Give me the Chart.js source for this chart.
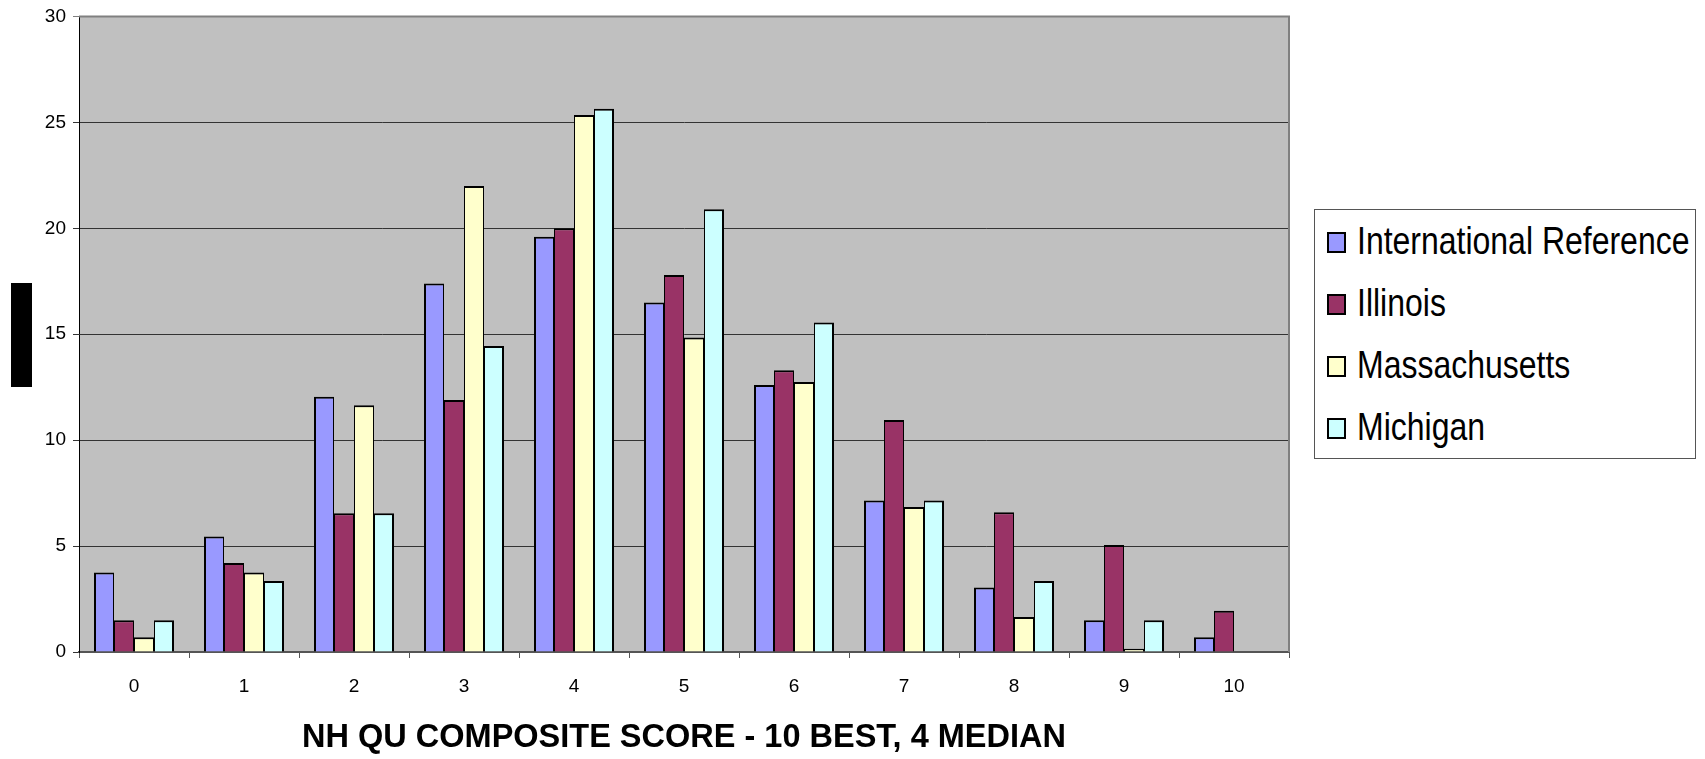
<!DOCTYPE html>
<html>
<head>
<meta charset="utf-8">
<script src="https://cdn.jsdelivr.net/npm/chart.js@4/dist/chart.umd.min.js"></script>
<style>
  html, body { margin: 0; padding: 0; background: #ffffff; }
  #wrap { position: relative; width: 1705px; height: 759px; overflow: hidden; }
  #chart { position: absolute; left: 0; top: 0; }
  .axis-tab { position: absolute; left: 11px; top: 283px; width: 21px; height: 104px; background: #000; }
  #legend {
    position: absolute; left: 1314px; top: 209px; width: 380px; height: 247px;
    border: 1px solid #555; background: #fff; box-sizing: content-box;
    padding-top: 1px;
    font-family: "Liberation Sans", Arial, sans-serif;
    font-size: 39px; color: #000;
  }
  #legend .row { height: 62px; display: flex; align-items: center; white-space: nowrap; }
  #legend .sw { width: 15px; height: 17px; border: 2px solid #000; margin-left: 12px; margin-right: 11px; flex: none; }
  /* narrow-set legend lettering */
  #legend .txt { display: inline-block; transform: scaleX(0.82); transform-origin: left center; margin-top: -3px; }
</style>
</head>
<body>
<div id="wrap">
  <canvas id="chart" width="1705" height="759"></canvas>
  <div class="axis-tab"></div>
  <div id="legend"></div>
</div>
<script>
// Score categories on the x axis
const categories = ['0', '1', '2', '3', '4', '5', '6', '7', '8', '9', '10'];

// Share of homes (%) at each composite score
const intlReference = [3.75, 5.45, 12.05, 17.4, 19.6, 16.5, 12.6, 7.15, 3.05, 1.5, 0.7];
const illinois      = [1.5, 4.2, 6.55, 11.9, 20.0, 17.8, 13.3, 10.95, 6.6, 5.05, 1.95];
const massachusetts = [0.7, 3.75, 11.65, 22.0, 25.35, 14.85, 12.75, 6.85, 1.65, 0.15, 0];
const michigan      = [1.5, 3.35, 6.55, 14.45, 25.65, 20.9, 15.55, 7.15, 3.35, 1.5, 0];

// Y axis range
const yMin = 0;
const yMax = 30;
const yStep = 5;

const seriesNames = ['International Reference', 'Illinois', 'Massachusetts', 'Michigan'];
const seriesColors = ['#9999FF', '#993366', '#FFFFCC', '#CCFFFF'];
const seriesData = [intlReference, illinois, massachusetts, michigan];

const tickFont = { family: '"Liberation Sans", Arial, sans-serif', size: 19, lineHeight: 1 };

// Outer bars get a full 2px edge, inner edges are shared between neighbours
function edgeWidths(i, n) {
  return { top: 2, bottom: 0, left: i === 0 ? 2 : 1, right: i === n - 1 ? 2 : 1 };
}

const datasets = seriesNames.map((name, i) => ({
  label: name,
  data: seriesData[i],
  backgroundColor: seriesColors[i],
  borderColor: '#000000',
  borderWidth: edgeWidths(i, seriesNames.length),
  borderSkipped: false,
  inflateAmount: 0,
  categoryPercentage: 80 / 110,
  barPercentage: 1.0
}));

// Grey plot area with a grey frame on the top and right
const plotBackground = {
  id: 'plotBackground',
  beforeDraw(chart) {
    const { ctx, chartArea: a } = chart;
    ctx.save();
    ctx.fillStyle = '#C0C0C0';
    ctx.fillRect(a.left, a.top, a.right - a.left, a.bottom - a.top);
    ctx.restore();
  },
  afterDatasetsDraw(chart) {
    const { ctx, chartArea: a } = chart;
    ctx.save();
    ctx.strokeStyle = '#808080';
    ctx.lineWidth = 2;
    ctx.beginPath();
    ctx.moveTo(a.left, a.top);
    ctx.lineTo(a.right, a.top);
    ctx.lineTo(a.right, a.bottom);
    ctx.stroke();
    ctx.restore();
  }
};

const chart = new Chart(document.getElementById('chart'), {
  type: 'bar',
  data: { labels: categories, datasets },
  plugins: [plotBackground],
  options: {
    responsive: false,
    animation: false,
    layout: { padding: { top: 12, right: 416, left: 0, bottom: 0 } },
    plugins: {
      legend: { display: false },
      tooltip: { enabled: false },
      title: { display: false }
    },
    scales: {
      x: {
        afterFit(scale) { scale.height = 107; },
        grid: {
          display: true, drawOnChartArea: false, drawTicks: true,
          tickLength: 6, color: '#555555', lineWidth: 1, offset: true
        },
        border: { display: true, color: '#555555', width: 2 },
        ticks: { color: '#000', font: tickFont, padding: 19, maxRotation: 0 },
        title: {
          display: true,
          text: 'NH QU COMPOSITE SCORE - 10 BEST, 4 MEDIAN',
          color: '#000',
          font: { family: '"Liberation Sans", Arial, sans-serif', size: 32.5, weight: 'bold', lineHeight: 1 },
          padding: { top: 0, bottom: 5 }
        }
      },
      y: {
        min: yMin, max: yMax,
        afterFit(scale) { scale.width = 79; },
        grid: {
          drawTicks: true, tickLength: 6,
          color: (c) => (c.tick && c.tick.value === yMax ? '#808080' : '#333333'),
          lineWidth: 1
        },
        border: { display: true, color: '#000000', width: 1 },
        ticks: { stepSize: yStep, color: '#000', font: tickFont, padding: 7 }
      }
    }
  }
});

// Legend box built from the chart's own datasets
const legendEl = document.getElementById('legend');
chart.data.datasets.forEach((ds) => {
  const row = document.createElement('div');
  row.className = 'row';
  const sw = document.createElement('span');
  sw.className = 'sw';
  sw.style.background = ds.backgroundColor;
  const label = document.createElement('span');
  label.className = 'txt';
  label.textContent = ds.label;
  row.appendChild(sw);
  row.appendChild(label);
  legendEl.appendChild(row);
});
</script>
</body>
</html>
